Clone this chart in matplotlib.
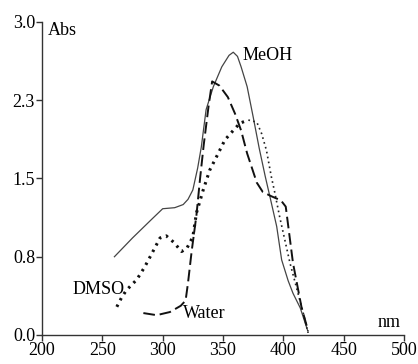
import matplotlib
matplotlib.use("Agg")
import matplotlib.pyplot as plt

plt.rcParams['font.family'] = ['Liberation Serif', 'DejaVu Serif']

# MeOH (solid)
meoh_x = [260, 275, 291, 300, 310, 317, 321, 325, 329, 332, 336, 342, 349, 355, 358.5,
          362, 365, 370, 375, 380, 385, 389, 394.5, 398.6, 404, 408, 414, 420.5]
meoh_y = [0.75, 0.93, 1.11, 1.21, 1.22, 1.25, 1.30, 1.39, 1.60, 1.80, 2.16, 2.38, 2.57, 2.68, 2.71,
          2.67, 2.57, 2.38, 2.09, 1.79, 1.52, 1.32, 1.04, 0.72, 0.52, 0.40, 0.26, 0.03]

# DMSO (dotted)
dmso_x = [262, 266, 270, 278.5, 285, 291, 297.8, 303, 309, 315.7, 320, 325, 328, 333.6, 339,
          344.7, 351.6, 358.5, 364, 371, 378, 382, 386, 390, 393, 397, 405.5, 416.5, 420.5]
dmso_y = [0.27, 0.36, 0.43, 0.53, 0.65, 0.78, 0.93, 0.95, 0.89, 0.80, 0.83, 0.94, 1.17, 1.39, 1.58,
          1.71, 1.87, 1.96, 2.03, 2.06, 2.04, 1.93, 1.77, 1.52, 1.36, 1.13, 0.69, 0.21, 0.02]

# Water (dashed)
water_x = [284, 295, 306, 315, 319, 321, 324, 328, 331, 334, 338, 341, 347, 354, 360, 365,
           370, 374, 378, 383, 390, 398, 402, 408, 415, 420.5]
water_y = [0.21, 0.19, 0.22, 0.28, 0.33, 0.50, 0.80, 1.15, 1.50, 1.82, 2.19, 2.43, 2.39, 2.28, 2.12, 1.96,
           1.74, 1.60, 1.46, 1.37, 1.33, 1.29, 1.23, 0.69, 0.27, 0.04]

yticks = [0, 0.75, 1.5, 2.25, 3.0]
ytick_labels = ['0.0', '0.8', '1.5', '2.3', '3.0']
xticks = [200, 250, 300, 350, 400, 450, 500]

fig = plt.figure(figsize=(4.18, 3.64), dpi=100)
ax = fig.add_axes([0.1005, 0.0797, 0.866, 0.86])

ax.plot(meoh_x, meoh_y, color='#444444', lw=0.9)
split = 19
ax.plot(dmso_x[:split + 1], dmso_y[:split + 1], color='#111111', lw=2.2, ls=(0, (0.8, 1.6)))
ax.plot(dmso_x[split:], dmso_y[split:], color='#222222', lw=1.2, ls=(0, (1, 2)))
ax.plot(water_x, water_y, color='#111111', lw=1.4, ls=(0, (6, 2.5)))

ax.text(366, 2.68, 'MeOH', fontsize=13, va='center', ha='left')
ax.text(225, 0.44, 'DMSO', fontsize=13, va='center', ha='left')
ax.text(317, 0.21, 'Water', fontsize=13, va='center', ha='left')
ax.text(205, 2.92, 'Abs', fontsize=13, va='center', ha='left')
ax.text(478, 0.12, 'nm', fontsize=13, va='center', ha='left')

ax.set_xlim(200, 500)
ax.set_ylim(0, 3.0)
ax.set_xticks(xticks)
ax.set_yticks(yticks)
ax.set_yticklabels(ytick_labels)
for s in ['top', 'right']:
    ax.spines[s].set_visible(False)
for s in ['left', 'bottom']:
    ax.spines[s].set_color('#333333')
    ax.spines[s].set_linewidth(1.0)
ax.tick_params(direction='out', length=4, width=1, color='#333333', labelsize=13, pad=1)

fig.savefig('out.png', dpi=100)
